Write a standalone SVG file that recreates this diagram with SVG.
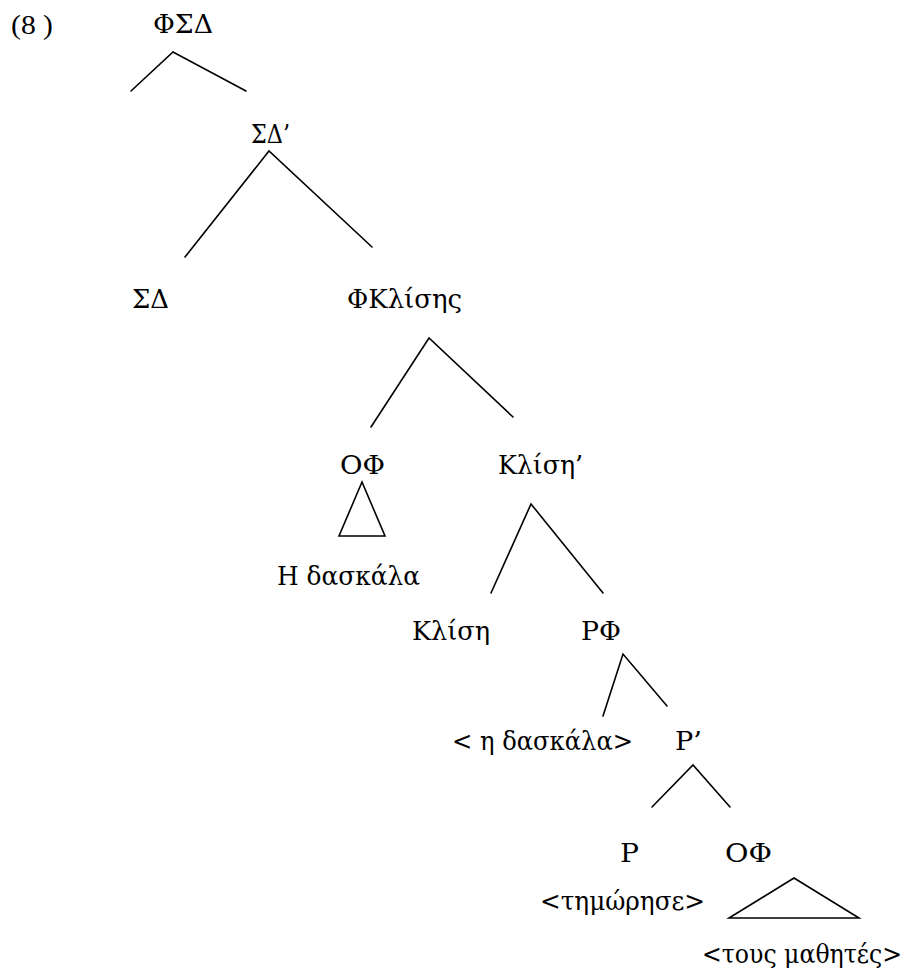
<svg xmlns="http://www.w3.org/2000/svg" width="917" height="980" viewBox="0 0 917 980">
<style>
text{font-family:"Liberation Serif","DejaVu Serif",serif;font-size:27px;fill:#000}
.g{font-family:"DejaVu Serif","Liberation Serif",serif;font-size:26px}
.e{stroke:#000;stroke-width:1.6;fill:none;stroke-linecap:round;stroke-linejoin:miter}
</style>
<rect width="917" height="980" fill="#fff"/>
<text id="label8" x="11" y="34" font-size="30" textLength="42" lengthAdjust="spacingAndGlyphs">(8 )</text>
<g id="n_FSD"><text class="g" x="153" y="33" textLength="60" lengthAdjust="spacingAndGlyphs">ΦΣΔ</text></g>
<g id="n_SDbar"><text class="g" x="251" y="143" textLength="39" lengthAdjust="spacingAndGlyphs">ΣΔ’</text></g>
<g id="n_SD"><text class="g" x="132" y="308" textLength="37" lengthAdjust="spacingAndGlyphs">ΣΔ</text></g>
<g id="n_FKl"><text class="g" x="347" y="308" textLength="115" lengthAdjust="spacingAndGlyphs">ΦΚλίσης</text></g>
<g id="n_OF1"><text class="g" x="340" y="474" textLength="45" lengthAdjust="spacingAndGlyphs">ΟΦ</text></g>
<g id="n_Klbar"><text class="g" x="498" y="474" textLength="85" lengthAdjust="spacingAndGlyphs">Κλίση’</text></g>
<g id="n_Hdask"><text class="g" x="277" y="585" textLength="143" lengthAdjust="spacingAndGlyphs">Η δασκάλα</text></g>
<g id="n_Kl"><text class="g" x="412" y="640" textLength="78" lengthAdjust="spacingAndGlyphs">Κλίση</text></g>
<g id="n_RF"><text class="g" x="581" y="640" textLength="40" lengthAdjust="spacingAndGlyphs">ΡΦ</text></g>
<g id="n_hdask"><text class="g" x="452" y="750" textLength="181" lengthAdjust="spacingAndGlyphs">&lt; η δασκάλα&gt;</text></g>
<g id="n_Rbar"><text class="g" x="675" y="750" textLength="27" lengthAdjust="spacingAndGlyphs">Ρ’</text></g>
<g id="n_R"><text class="g" x="620" y="862" textLength="19" lengthAdjust="spacingAndGlyphs">Ρ</text></g>
<g id="n_OF2"><text class="g" x="725" y="862" textLength="47" lengthAdjust="spacingAndGlyphs">ΟΦ</text></g>
<g id="n_tim"><text class="g" x="540" y="910" textLength="165" lengthAdjust="spacingAndGlyphs">&lt;τημώρησε&gt;</text></g>
<g id="n_tous"><text class="g" x="702" y="963" font-size="24" textLength="200" lengthAdjust="spacingAndGlyphs">&lt;τους μαθητές&gt;</text></g>
<g id="connectors">
<polyline class="e" points="131,91 173,52 246,91"/>
<polyline class="e" points="185,257 269,151 372,247"/>
<polyline class="e" points="371,427 429,338 513,417"/>
<polygon class="e" points="362,482 339,536 385,536"/>
<polyline class="e" points="491,593 531,504 603,593"/>
<polyline class="e" points="603,716 623,654 667,706"/>
<polyline class="e" points="652,807 693,765 730,807"/>
<polygon class="e" points="794,878 729,918 859,918"/>
</g>
</svg>
